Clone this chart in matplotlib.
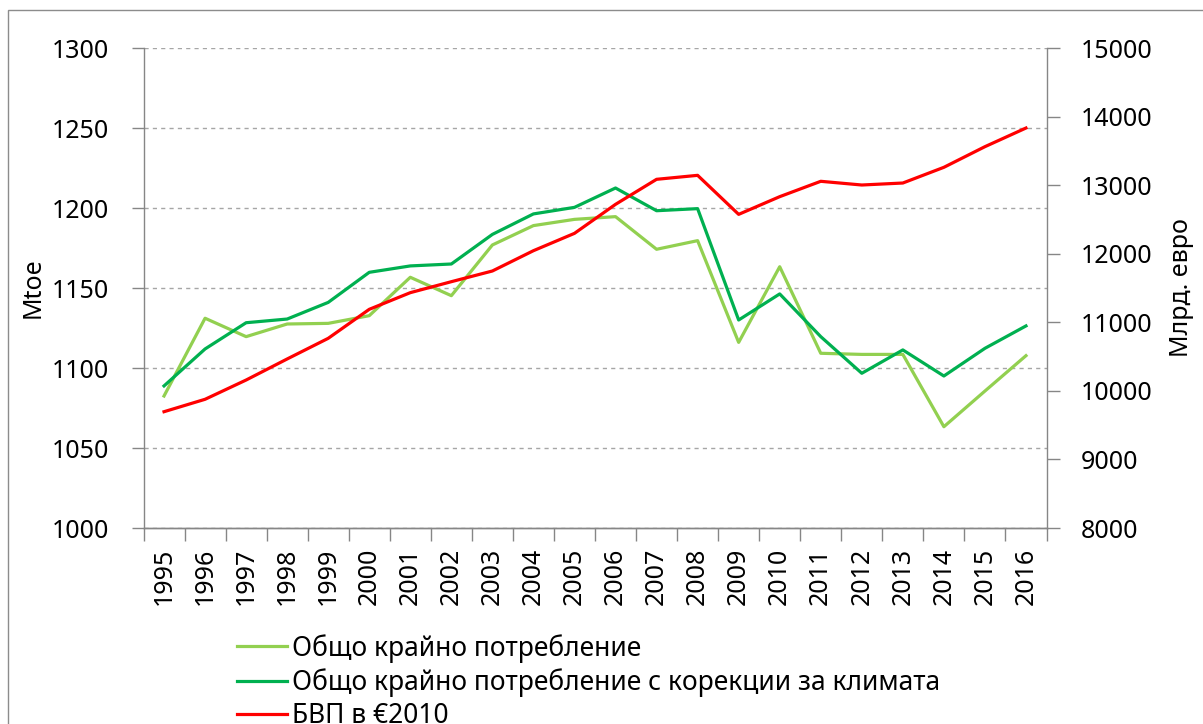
import matplotlib
matplotlib.use("Agg")
import matplotlib.pyplot as plt
from matplotlib.patches import Rectangle
import numpy as np

plt.rcParams['font.family'] = ['Noto Sans', 'DejaVu Sans']

years = ['1995', '1996', '1997', '1998', '1999', '2000', '2001', '2002', '2003', '2004', '2005',
         '2006', '2007', '2008', '2009', '2010', '2011', '2012', '2013', '2014', '2015', '2016']

final_consumption = [1082.5, 1131.1, 1119.6, 1127.5, 1127.9, 1132.7, 1156.7, 1145.2, 1176.9, 1189.0, 1192.9,
                     1194.6, 1174.2, 1179.6, 1116.0, 1163.3, 1109.2, 1108.5, 1108.5, 1063.3, 1085.6, 1107.7]

climate_corrected = [1088.8, 1111.9, 1128.3, 1130.6, 1141.0, 1159.8, 1163.8, 1165.0, 1183.5, 1196.3, 1200.4,
                     1212.5, 1198.3, 1199.6, 1130.0, 1146.3, 1119.6, 1096.7, 1111.3, 1095.0, 1112.3, 1126.3]

gdp = [9696, 9877, 10158, 10465, 10766, 11189, 11432, 11592, 11748, 12044, 12297,
       12720, 13085, 13143, 12574, 12832, 13056, 13002, 13031, 13260, 13561, 13833]

labels = ['Общо крайно потребление',
          'Общо крайно потребление с корекции за климата',
          'БВП в €2010']

W, H = 1203, 724
fig = plt.figure(figsize=(W / 100, H / 100), dpi=100)

# chart area border (Excel style)
fig.patches.append(Rectangle((7.5 / W, -0.1), 1.2, 1 - 10 / H + 0.1, transform=fig.transFigure,
                             fill=False, edgecolor='#8c8c8c', linewidth=1.0))

left, right, top, bottom = 143.5, 1046.5, 48, 528
ax = fig.add_axes([left / W, 1 - bottom / H, (right - left) / W, (bottom - top) / H])
ax2 = ax.twinx()

x = np.arange(len(years))
l1, = ax.plot(x, final_consumption, color='#92D050', lw=2.3, solid_joinstyle='round')
l2, = ax.plot(x, climate_corrected, color='#00B050', lw=2.3, solid_joinstyle='round')
l3, = ax2.plot(x, gdp, color='#FF0000', lw=2.3, solid_joinstyle='round')

ax.set_xlim(-0.5, len(years) - 0.5)
ax.set_ylim(1000, 1300)
ax.set_yticks(np.arange(1000, 1301, 50))
ax2.set_ylim(8000, 15000)
ax2.set_yticks(np.arange(8000, 15001, 1000))

ax.set_xticks(x)
ax.set_xticklabels(years, rotation=90, fontsize=18)
ax.set_xticks(np.arange(-0.5, len(years), 1), minor=True)
ax.tick_params(axis='x', which='major', length=0, pad=14)
ax.tick_params(axis='x', which='minor', length=9, width=1, color='#868686', direction='out')

ax.tick_params(axis='y', labelsize=18, length=9, width=1, color='#868686', pad=16)
ax2.tick_params(axis='y', labelsize=18, length=9, width=1, color='#868686', pad=16)

ax.grid(axis='y', color='#a6a6a6', linestyle=(0, (3, 3)), linewidth=1)
ax.set_axisbelow(True)

for a in (ax, ax2):
    a.spines['top'].set_visible(False)
    for s in ('left', 'right', 'bottom'):
        a.spines[s].set_color('#868686')
        a.spines[s].set_linewidth(1)
ax2.spines['left'].set_visible(False)
ax.spines['right'].set_visible(False)

ax.set_ylabel('Mtoe', fontsize=18)
ax.yaxis.set_label_coords((33 - left) / (right - left), 0.5)
ax2.set_ylabel('Млрд. евро', fontsize=18)
ax2.yaxis.set_label_coords((1181 - left) / (right - left), 0.5)
for lab in (ax.yaxis.label, ax2.yaxis.label):
    lab.set_verticalalignment('center')

fig.legend([l1, l2, l3], labels, loc='upper left', bbox_to_anchor=(237 / W, 1 - 634 / H),
           frameon=False, fontsize=19, handlelength=1.9, handletextpad=0.2,
           labelspacing=0.2, borderpad=0, borderaxespad=0)

fig.savefig('out.png', dpi=100)
